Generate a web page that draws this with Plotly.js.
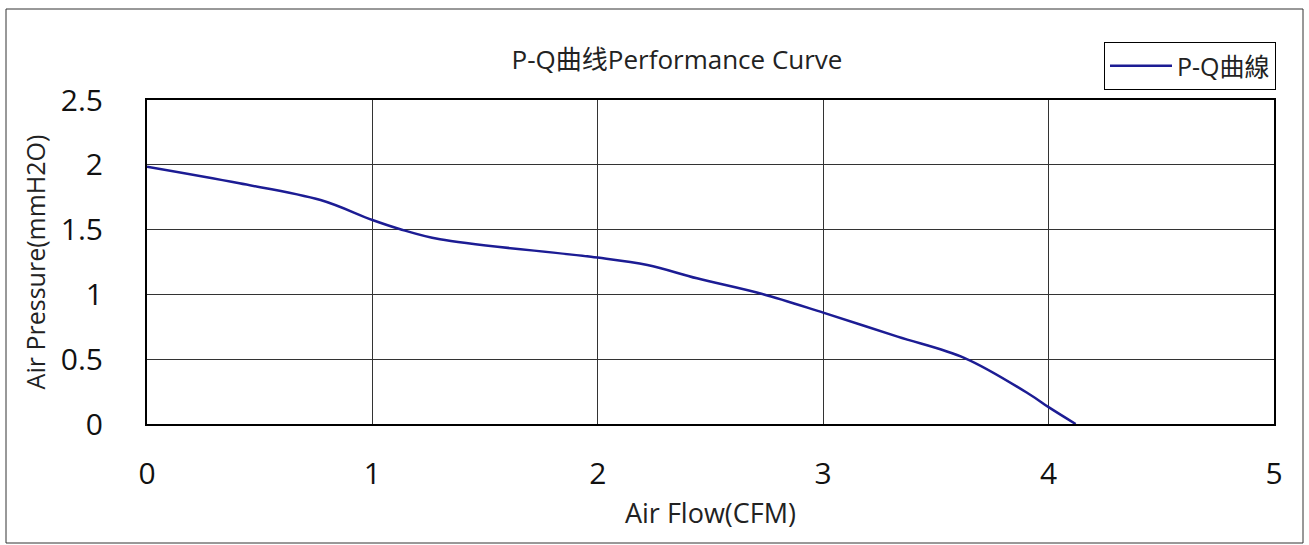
<!DOCTYPE html>
<html>
<head>
<meta charset="utf-8">
<script src="https://cdn.plot.ly/plotly-3.0.1.min.js"></script>
<style>html,body{margin:0;padding:0;background:#fff;}#chart{width:1309px;height:545px;}</style>
</head>
<body>
<div id="chart"></div>
<script>
var airFlow = [0, 0.41, 0.77, 1.0, 1.12, 1.30, 1.97, 2.22, 2.44, 2.73, 3.0, 3.33, 3.63, 3.92, 4.0, 4.12];
var airPressure = [1.985, 1.857, 1.728, 1.574, 1.505, 1.425, 1.29, 1.227, 1.124, 1.003, 0.859, 0.674, 0.507, 0.224, 0.13, 0.0];
var seriesName = 'P-Q曲線';
var chartTitle = 'P-Q曲线Performance Curve';
var xTitle = 'Air Flow(CFM)';
var yTitle = 'Air Pressure(mmH2O)';

var L = 147, R = 1274, T = 100, B = 424, W = 1309, H = 545;
var pw = R - L, ph = B - T;
function px(x){ return (x - L) / pw; }
function py(y){ return (B - y) / ph; }

var fontFam = 'Open Sans, Noto Sans CJK SC, sans-serif';

var trace = {
  x: airFlow, y: airPressure, name: seriesName, type: 'scatter', mode: 'lines',
  line: {color: '#1c1c94', width: 2.5, shape: 'spline', smoothing: 1.0}
};

var layout = {
  width: W, height: H,
  margin: {l: L, r: W - R, t: T, b: H - B},
  paper_bgcolor: '#fff', plot_bgcolor: '#fff',
  font: {family: fontFam, color: '#000'},
  title: {text: chartTitle, font: {size: 26, color: '#222', family: fontFam},
          x: 677 / W, xanchor: 'center', y: 1 - 60 / H, yanchor: 'middle'},
  showlegend: true,
  legend: {x: px(1104), y: py(42), xanchor: 'left', yanchor: 'top',
           bordercolor: '#000', borderwidth: 1, bgcolor: '#fff', itemwidth: 62,
           font: {size: 25, color: '#222', family: fontFam}},
  xaxis: {range: [0, 5], dtick: 1, tick0: 0, showgrid: true, gridcolor: '#333', gridwidth: 1,
          showline: true, linecolor: '#000', linewidth: 2, mirror: true, zeroline: false,
          ticks: '', ticklabelstandoff: 22, tickfont: {size: 30, color: '#111'},
          title: {text: xTitle, font: {size: 27, color: '#222'}, standoff: 12}},
  yaxis: {range: [0, 2.5], dtick: 0.5, tick0: 0, showgrid: true, gridcolor: '#333', gridwidth: 1,
          showline: true, linecolor: '#000', linewidth: 2, mirror: true, zeroline: false,
          ticks: '', ticklabelstandoff: 36, tickfont: {size: 30, color: '#111'},
          title: {text: yTitle, font: {size: 25, color: '#222'}, standoff: 8}},
  shapes: [{type: 'rect', xref: 'paper', yref: 'paper', x0: px(6), x1: px(1303), y0: py(543), y1: py(9),
            line: {color: '#333', width: 1}, fillcolor: 'rgba(0,0,0,0)', layer: 'below'}]
};

Plotly.newPlot('chart', [trace], layout, {displayModeBar: false, staticPlot: true});
</script>
</body>
</html>
